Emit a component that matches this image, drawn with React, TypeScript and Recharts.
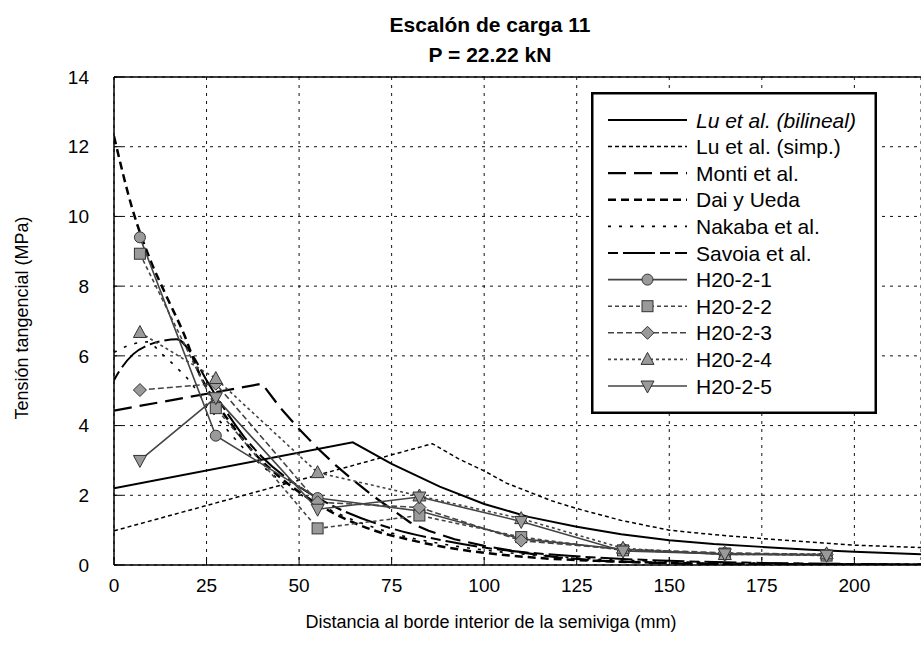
import React from 'react';
import { ComposedChart, Line, XAxis, YAxis, CartesianGrid, ReferenceLine } from 'recharts';

const FONT = '"Liberation Sans", Arial, Helvetica, sans-serif';

const xTicks = [0, 25, 50, 75, 100, 125, 150, 175, 200];
const yTicks = [0, 2, 4, 6, 8, 10, 12, 14];

// Model curves
const luBilX = [0, 64.5, 75, 88, 100, 112, 125, 137, 150, 162, 175, 188, 200, 218];
const luBilY = [2.2, 3.52, 2.9, 2.25, 1.75, 1.38, 1.1, 0.88, 0.71, 0.6, 0.52, 0.44, 0.38, 0.31];

const luSimpX = [0, 86, 93, 100, 106, 112, 118, 125, 137, 150, 162, 175, 188, 200, 218];
const luSimpY = [0.98, 3.48, 3.05, 2.7, 2.35, 2.1, 1.85, 1.62, 1.28, 1.0, 0.87, 0.76, 0.66, 0.57, 0.5];

const montiX = [0, 40, 45, 50, 55, 60, 65, 70, 75, 80, 85, 92, 100, 110, 120, 130, 145, 165, 218];
const montiY = [4.43, 5.2, 4.5, 3.9, 3.35, 2.85, 2.4, 1.98, 1.6, 1.22, 0.98, 0.74, 0.55, 0.36, 0.22, 0.13, 0.06, 0.02, 0];

const daiX = [0, 5, 10, 14, 19, 23, 27, 32, 38, 45, 52, 60, 70, 80, 90, 100, 115, 130, 150, 175, 200, 218];
const daiY = [12.3, 10.2, 8.7, 7.75, 6.6, 5.5, 4.75, 4.0, 3.2, 2.5, 1.95, 1.45, 1.0, 0.72, 0.5, 0.35, 0.2, 0.12, 0.06, 0.03, 0.015, 0.01];

const nakabaX = [0, 4, 9, 13, 15, 17.8, 20, 25, 30, 35, 40, 50, 60, 75, 90, 100, 125, 150, 175, 200, 218];
const nakabaY = [6.1, 6.3, 6.4, 6.05, 5.86, 5.57, 5.33, 4.6, 3.95, 3.35, 2.85, 2.05, 1.5, 0.92, 0.58, 0.43, 0.2, 0.1, 0.05, 0.03, 0.02];

const savoiaX = [0, 1.2, 5.2, 9.7, 13, 17, 21, 25, 30, 35, 40, 50, 60, 75, 90, 100, 125, 150, 175, 200, 218];
const savoiaY = [5.3, 5.52, 6.05, 6.33, 6.43, 6.48, 6.05, 5.3, 4.45, 3.7, 3.1, 2.25, 1.65, 1.05, 0.68, 0.5, 0.25, 0.12, 0.06, 0.03, 0.02];

// Experimental (strain gauge positions)
const expX = [7, 27.5, 55, 82.5, 110, 137.5, 165, 192.5];
const h1 = [9.4, 3.71, 1.92, 1.55, 0.75, 0.45, 0.3, 0.3];
const h2 = [8.93, 4.5, 1.05, 1.42, 0.8, 0.42, 0.33, 0.27];
const h3 = [5.02, 5.2, 1.8, 1.65, 0.7, 0.45, 0.35, 0.3];
const h4 = [6.67, 5.35, 2.65, 1.98, 1.33, 0.48, 0.3, 0.32];
const h5 = [3.0, 4.8, 1.6, 1.95, 1.25, 0.4, 0.32, 0.28];

const toPts = (xs: number[], ys: number[]) => xs.map((x, i) => ({ x, y: ys[i] }));

type Shape = 'circle' | 'square' | 'diamond' | 'up' | 'down' | 'none';

const MFILL = '#9a9a9a';
const MSTROKE = '#333';

function Marker({ cx, cy, shape }: { cx: number; cy: number; shape: Shape }) {
  if (cx == null || cy == null || shape === 'none') return null;
  const r = 5.5;
  if (shape === 'circle') return <circle cx={cx} cy={cy} r={r} fill={MFILL} stroke={MSTROKE} strokeWidth={1} />;
  if (shape === 'square') return <rect x={cx - r} y={cy - r} width={2 * r} height={2 * r} fill={MFILL} stroke={MSTROKE} strokeWidth={1} />;
  if (shape === 'diamond') return <polygon points={`${cx},${cy - r - 1} ${cx + r + 1},${cy} ${cx},${cy + r + 1} ${cx - r - 1},${cy}`} fill={MFILL} stroke={MSTROKE} strokeWidth={1} />;
  if (shape === 'up') return <polygon points={`${cx},${cy - r - 1.5} ${cx + r + 1},${cy + r - 0.5} ${cx - r - 1},${cy + r - 0.5}`} fill={MFILL} stroke={MSTROKE} strokeWidth={1} />;
  return <polygon points={`${cx},${cy + r + 1.5} ${cx + r + 1},${cy - r + 0.5} ${cx - r - 1},${cy - r + 0.5}`} fill={MFILL} stroke={MSTROKE} strokeWidth={1} />;
}

interface SeriesDef {
  name: string;
  italic?: boolean;
  xs: number[];
  ys: number[];
  stroke: string;
  width: number;
  dash?: string;
  shape: Shape;
  curve: 'linear' | 'monotone';
}

const series: SeriesDef[] = [
  { name: 'Lu et al. (bilineal)', italic: true, xs: luBilX, ys: luBilY, stroke: '#000', width: 2, shape: 'none', curve: 'linear' },
  { name: 'Lu et al. (simp.)', xs: luSimpX, ys: luSimpY, stroke: '#000', width: 1.5, dash: '4 3', shape: 'none', curve: 'linear' },
  { name: 'Monti et al.', xs: montiX, ys: montiY, stroke: '#000', width: 2.2, dash: '18 8', shape: 'none', curve: 'linear' },
  { name: 'Dai y Ueda', xs: daiX, ys: daiY, stroke: '#000', width: 2.5, dash: '8 5', shape: 'none', curve: 'monotone' },
  { name: 'Nakaba et al.', xs: nakabaX, ys: nakabaY, stroke: '#000', width: 1.6, dash: '3 8', shape: 'none', curve: 'monotone' },
  { name: 'Savoia et al.', xs: savoiaX, ys: savoiaY, stroke: '#000', width: 2, dash: '10 5 32 5', shape: 'none', curve: 'monotone' },
  { name: 'H20-2-1', xs: expX, ys: h1, stroke: '#444', width: 1.6, shape: 'circle', curve: 'linear' },
  { name: 'H20-2-2', xs: expX, ys: h2, stroke: '#444', width: 1.6, dash: '4 3', shape: 'square', curve: 'linear' },
  { name: 'H20-2-3', xs: expX, ys: h3, stroke: '#444', width: 1.6, dash: '6 3', shape: 'diamond', curve: 'linear' },
  { name: 'H20-2-4', xs: expX, ys: h4, stroke: '#444', width: 1.6, dash: '3 3', shape: 'up', curve: 'linear' },
  { name: 'H20-2-5', xs: expX, ys: h5, stroke: '#444', width: 1.6, shape: 'down', curve: 'linear' },
];

function LegendBox() {
  const w = 286;
  const h = 322;
  const rowH = 26.6;
  return (
    <svg width={w} height={h} style={{ position: 'absolute', left: 591, top: 92 }}>
      <rect x={1.25} y={1.25} width={w - 2.5} height={h - 2.5} fill="#fff" stroke="#000" strokeWidth={2.5} />
      {series.map((s, i) => {
        const y = 28 + rowH * i;
        return (
          <g key={s.name}>
            <line x1={17} x2={96} y1={y} y2={y} stroke={s.stroke} strokeWidth={s.width} strokeDasharray={s.dash} />
            <Marker cx={56.5} cy={y} shape={s.shape} />
            <text x={105} y={y} dy="0.36em" fontSize={21} fontFamily={FONT} fontStyle={s.italic ? 'italic' : 'normal'} fill="#000">
              {s.name}
            </text>
          </g>
        );
      })}
    </svg>
  );
}

export default function App() {
  return (
    <div style={{ position: 'absolute', left: 0, top: 0, width: 921, height: 650, background: '#fff', fontFamily: FONT }}>
      <ComposedChart width={921} height={650} margin={{ top: 77, right: 0, bottom: 0, left: 54 }}>
        <CartesianGrid stroke="#111" strokeDasharray="3 5" strokeWidth={1} />
        <XAxis
          type="number"
          dataKey="x"
          domain={[0, 218]}
          ticks={xTicks}
          interval={0}
          allowDataOverflow
          height={85}
          tickSize={-8}
          tickMargin={22}
          axisLine={{ stroke: '#000', strokeWidth: 1.5 }}
          tickLine={{ stroke: '#000', strokeWidth: 1 }}
          tick={{ fontSize: 19, fill: '#000', fontFamily: FONT }}
        />
        <YAxis
          type="number"
          domain={[0, 14]}
          ticks={yTicks}
          interval={0}
          allowDataOverflow
          width={60}
          tickSize={-8}
          tickMargin={33}
          axisLine={{ stroke: '#000', strokeWidth: 1.5 }}
          tickLine={{ stroke: '#000', strokeWidth: 1 }}
          tick={{ fontSize: 19, fill: '#000', fontFamily: FONT }}
        />
        <ReferenceLine y={14} stroke="#000" strokeWidth={1.5} />
        {series.map((s) => (
          <Line
            key={s.name}
            name={s.name}
            data={toPts(s.xs, s.ys)}
            dataKey="y"
            type={s.curve}
            stroke={s.stroke}
            strokeWidth={s.width}
            strokeDasharray={s.dash}
            isAnimationActive={false}
            activeDot={false}
            dot={
              s.shape === 'none'
                ? false
                : (p: any) => <Marker key={`${s.name}-${p.index}`} cx={p.cx} cy={p.cy} shape={s.shape} />
            }
          />
        ))}
      </ComposedChart>

      <div style={{ position: 'absolute', left: 490, top: 10, transform: 'translateX(-50%)', textAlign: 'center', fontWeight: 'bold', fontSize: 21, lineHeight: '30px', whiteSpace: 'nowrap', color: '#000' }}>
        <div>Escalón de carga 11</div>
        <div>P = 22.22 kN</div>
      </div>

      <div style={{ position: 'absolute', left: 22, top: 318, transform: 'translate(-50%, -50%) rotate(-90deg)', fontSize: 18, whiteSpace: 'nowrap', color: '#000' }}>
        Tensión tangencial (MPa)
      </div>

      <div style={{ position: 'absolute', left: 491, top: 622, transform: 'translate(-50%, -50%)', fontSize: 18, whiteSpace: 'nowrap', color: '#000' }}>
        Distancia al borde interior de la semiviga (mm)
      </div>

      <LegendBox />
    </div>
  );
}
